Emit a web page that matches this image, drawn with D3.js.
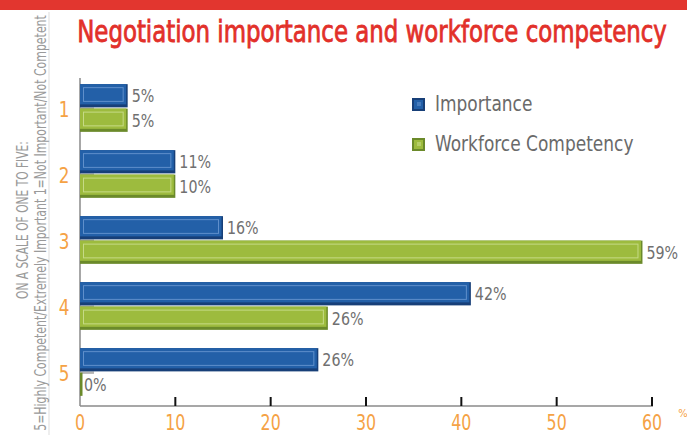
<!DOCTYPE html>
<html><head><meta charset="utf-8">
<script src="https://cdn.jsdelivr.net/npm/d3@7"></script>
<style>
html,body{margin:0;padding:0;background:#fff;}
svg{display:block;}
text{font-family:"Liberation Sans Narrow","DejaVu Sans Condensed","Liberation Sans",sans-serif;}
</style></head>
<body><svg id="chart" width="687" height="435"></svg>
<script>
const categories = ["1","2","3","4","5"];
const seriesNames = ["Importance","Workforce Competency"];
// bar lengths as drawn in the picture
const importance = [5, 10, 15, 41, 25];
const competency = [5, 10, 59, 26, 0];
// value labels as printed in the picture
const importanceLabels = ["5%", "11%", "16%", "42%", "26%"];
const competencyLabels = ["5%", "10%", "59%", "26%", "0%"];
const xTicks = [0,10,20,30,40,50,60];
const title = "Negotiation importance and workforce competency";
const yLabelLine1 = "5=Highly Competent/Extremely Important  1=Not Important/Not Competent";
const yLabelLine2 = "ON A SCALE OF ONE TO FIVE:";

const colors = {
  "Importance": {main:"#2360a8", dark:"#173f78", light:"#5f8fcb"},
  "Workforce Competency": {main:"#9dbb3e", dark:"#6b8a2a", light:"#c6da86"}
};
const orange = "#f5a245";

const svg = d3.select("#chart");

// text squeezed horizontally to a condensed look
function condText(parent, str, x, y, size, xs, opts){
  opts = opts || {};
  const t = parent.append("text")
    .attr("transform",`translate(${x},${y})${opts.rot?" rotate("+opts.rot+")":""} scale(${xs},1)`)
    .attr("font-size",size).attr("text-anchor",opts.anchor||"start").attr("fill",opts.fill||"#000").text(str);
  if (opts.stroke) t.attr("stroke",opts.fill).attr("stroke-width",opts.stroke);
  return t;
}
function fitWidth(t, str, x, y, target, rot){
  const w = t.node().getComputedTextLength();
  if (w > 0) t.attr("transform",`translate(${x},${y})${rot?" rotate("+rot+")":""} scale(${target/w},1)`);
}

svg.append("rect").attr("x",0).attr("y",0).attr("width",687).attr("height",10).attr("fill","#e2362f");
const tt = condText(svg, title, 372, 42, 30, 1, {anchor:"middle", fill:"#e2302a", stroke:0.8});
fitWidth(tt, title, 372, 42, 590);

svg.append("line").attr("x1",49).attr("x2",49).attr("y1",12).attr("y2",435).attr("stroke","#dddddd").attr("stroke-width",1);

const yl1 = condText(svg, yLabelLine1, 46, 223, 15.5, 1, {anchor:"middle", fill:"#9a9a9a", rot:-90});
fitWidth(yl1, yLabelLine1, 46, 223, 416, -90);
const yl2 = condText(svg, yLabelLine2, 28, 220, 15.5, 1, {anchor:"middle", fill:"#9a9a9a", rot:-90});
fitWidth(yl2, yLabelLine2, 28, 220, 158, -90);

const x = d3.scaleLinear().domain([0,60]).range([80,652]);
const y0 = d3.scaleBand().domain(categories).range([75,405]).paddingInner(0.24).paddingOuter(0.12);
const y1 = d3.scaleBand().domain(seriesNames).range([0,y0.bandwidth()]).padding(0.05);

const data = categories.map((c,i)=>({cat:c, vals:[
  {s:seriesNames[0], v:importance[i], label:importanceLabels[i]},
  {s:seriesNames[1], v:competency[i], label:competencyLabels[i]}
]}));

svg.append("line").attr("x1",x(0)).attr("x2",x(0)).attr("y1",78).attr("y2",406).attr("stroke","#8a8a8a").attr("stroke-width",1.5);

const groups = svg.selectAll("g.cat").data(data).enter().append("g")
  .attr("transform",d=>`translate(0,${y0(d.cat)})`);

groups.append("rect").attr("x",x(0)).attr("y",y1(seriesNames[0])+y1.bandwidth()).attr("width",14).attr("height",2.5).attr("fill","#b5b5b5");

const bars = groups.selectAll("g.bar").data(d=>d.vals).enter().append("g");
bars.each(function(d){
  const g = d3.select(this);
  const c = colors[d.s];
  const by = y1(d.s), bh = y1.bandwidth();
  const w = x(d.v)-x(0);
  if (w <= 0) {
    g.append("rect").attr("x",x(0)).attr("y",by).attr("width",2.5).attr("height",bh).attr("fill",c.dark);
  } else {
    g.append("rect").attr("x",x(0)).attr("y",by).attr("width",w).attr("height",bh).attr("fill",c.dark);
    g.append("rect").attr("x",x(0)).attr("y",by).attr("width",w-1.5).attr("height",bh-3).attr("fill",c.main);
    g.append("rect").attr("x",x(0)+3.5).attr("y",by+3.5).attr("width",Math.max(0,w-8)).attr("height",bh-9.5)
      .attr("fill",c.main).attr("stroke",c.light).attr("stroke-width",1);
  }
  condText(g, d.label, x(d.v)+4, by+bh/2+6.5, 18, 0.88, {fill:"#707070"});
});

categories.forEach(c=>{
  condText(svg, c, 64, y0(c)+y0.bandwidth()/2+8.5, 22, 0.85, {anchor:"middle", fill:orange});
});

svg.append("line").attr("x1",x(0)).attr("x2",x(60)+1).attr("y1",406).attr("y2",406).attr("stroke","#8a8a8a").attr("stroke-width",1.5);
svg.selectAll("line.tick").data(xTicks.filter(t=>t>0)).enter().append("line")
  .attr("x1",d=>x(d)).attr("x2",d=>x(d)).attr("y1",397).attr("y2",406).attr("stroke","#111").attr("stroke-width",2);
xTicks.forEach(t=>{
  condText(svg, String(t), x(t), 430, 22, 0.8, {anchor:"middle", fill:orange});
});
svg.append("text").attr("x",683).attr("y",417).attr("text-anchor","middle").attr("font-size",11).attr("fill",orange).text("%");

const leg = svg.append("g");
seriesNames.forEach((s,i)=>{
  const ly = 98 + i*40;
  const c = colors[s];
  leg.append("rect").attr("x",412).attr("y",ly).attr("width",13).attr("height",13).attr("fill",c.dark);
  leg.append("rect").attr("x",414).attr("y",ly+2).attr("width",9).attr("height",9).attr("fill",c.main);
  leg.append("rect").attr("x",417).attr("y",ly+4).attr("width",4).attr("height",4).attr("fill",c.light).attr("opacity",0.6);
  condText(leg, s, 435, ly+13, 21, 0.9, {fill:"#6a6a6a"});
});
</script></body></html>
